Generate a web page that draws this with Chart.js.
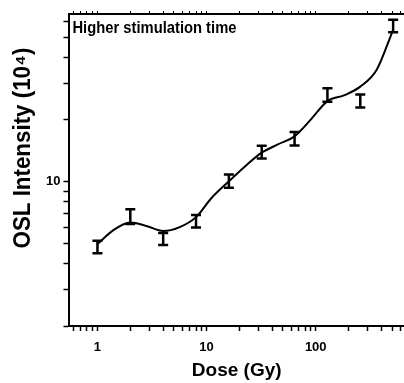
<!DOCTYPE html>
<html>
<head>
<meta charset="utf-8">
<script src="https://cdn.jsdelivr.net/npm/chart.js@4.4.1/dist/chart.umd.min.js"></script>
<style>
  html, body { margin: 0; padding: 0; background: #fff; }
</style>
</head>
<body>
<canvas id="chart" width="404" height="383"></canvas>
<script>
'use strict';

// measured points: dose (Gy) vs OSL intensity (10^4), with error
var doses = [1, 2, 4, 8, 16, 32, 64, 128, 256, 512];
var intensity = [4.84, 6.8, 5.29, 6.46, 10.1, 13.95, 16.2, 26.4, 24.7, 57.0];
var intensityErr = [0.34, 0.55, 0.35, 0.45, 0.75, 1.0, 1.2, 2.0, 1.8, 4.0];

// smooth curve
var curveDose = [1, 1.4, 2, 2.8, 4, 5.6, 8, 11, 16, 22.6, 32, 45, 64, 90, 128, 181, 256, 362, 512];
var curveIntensity = [4.99, 5.83, 6.35, 6.11, 5.77, 6.01, 6.74, 8.3, 10.05, 11.9, 13.84, 15.17, 16.6, 20.0, 24.6, 26.2, 28.9, 34.9, 54.5];

var xTicks = [0.6, 0.7, 0.8, 0.9, 1, 2, 3, 4, 5, 6, 7, 8, 9, 10, 20, 30, 40, 50, 60, 70, 80, 90, 100, 200, 300, 400, 500, 600];
var xLabels = [1, 10, 100];
var yTicks = [2, 3, 4, 5, 6, 7, 8, 9, 10, 20, 30, 40, 50, 60];
var yLabels = [10];

var FONT = '"Liberation Sans", Arial, sans-serif';

function setTicks(list) {
  return function (scale) {
    scale.ticks = list.map((v) => ({ value: v }));
  };
}

var errorBars = {
  id: 'errorBars',
  afterDatasetsDraw(chart) {
    var ctx = chart.ctx, xs = chart.scales.x, ys = chart.scales.y;
    ctx.save();
    ctx.strokeStyle = '#000';
    ctx.lineWidth = 2.5;
    doses.forEach((d, i) => {
      var px = xs.getPixelForValue(d);
      var top = ys.getPixelForValue(intensity[i] + intensityErr[i]);
      var bot = ys.getPixelForValue(intensity[i] - intensityErr[i]);
      ctx.beginPath();
      ctx.moveTo(px, top); ctx.lineTo(px, bot);
      ctx.moveTo(px - 5, top); ctx.lineTo(px + 5, top);
      ctx.moveTo(px - 5, bot); ctx.lineTo(px + 5, bot);
      ctx.stroke();
    });
    ctx.restore();
  }
};

var texts = {
  id: 'texts',
  afterDraw(chart) {
    var ctx = chart.ctx, a = chart.chartArea;
    ctx.save();
    ctx.fillStyle = '#000';
    ctx.textAlign = 'left';
    ctx.textBaseline = 'alphabetic';
    ctx.font = 'bold 17px ' + FONT;
    ctx.fillText('Higher stimulation time', a.left + 3, a.top + 19, 164);
    ctx.translate(24, 148);
    ctx.rotate(-Math.PI / 2);
    ctx.textAlign = 'center';
    ctx.textBaseline = 'middle';
    ctx.font = 'bold 23px ' + FONT;
    ctx.fillText('OSL Intensity (10\u2074)', 0, 0, 201);
    ctx.restore();
  }
};

var axisBorder = { display: true, color: '#000', width: 2 };

new Chart(document.getElementById('chart'), {
  type: 'scatter',
  data: {
    datasets: [{
      label: 'fit',
      data: curveDose.map((d, i) => ({ x: d, y: curveIntensity[i] })),
      showLine: true,
      borderColor: '#000',
      borderWidth: 2,
      pointRadius: 0,
      cubicInterpolationMode: 'monotone',
      fill: false
    }, {
      label: 'measured',
      data: doses.map((d, i) => ({ x: d, y: intensity[i] })),
      pointRadius: 0,
      borderColor: '#000'
    }]
  },
  options: {
    responsive: false,
    animation: false,
    devicePixelRatio: 1,
    layout: { padding: { left: 43, top: 11, right: 0, bottom: 1.1 } },
    plugins: { legend: { display: false }, tooltip: { enabled: false } },
    scales: {
      x: {
        type: 'logarithmic', position: 'bottom', min: 0.554, max: 644,
        afterBuildTicks: setTicks(xTicks),
        ticks: {
          autoSkip: false, maxRotation: 0, padding: 0, color: '#000',
          font: { family: FONT, size: 13, weight: 'bold', lineHeight: 2.46 },
          callback: (v) => (xLabels.indexOf(v) >= 0 ? String(v) : '')
        },
        grid: { drawOnChartArea: false, tickLength: 5, tickColor: '#000', tickWidth: 1.5 },
        border: axisBorder,
        title: {
          display: true, text: 'Dose (Gy)', color: '#000',
          font: { family: FONT, size: 19, weight: 'bold' },
          padding: { top: -3.9, bottom: 0 }
        }
      },
      x2: {
        type: 'logarithmic', position: 'top', min: 0.554, max: 644,
        afterBuildTicks: setTicks(xTicks),
        ticks: { display: false },
        grid: { drawOnChartArea: false, tickLength: 3, tickColor: '#000', tickWidth: 1 },
        border: axisBorder
      },
      y: {
        type: 'logarithmic', position: 'left', min: 2, max: 65,
        afterBuildTicks: setTicks(yTicks),
        ticks: {
          autoSkip: false, padding: 3, color: '#000',
          font: { family: FONT, size: 13, weight: 'bold' },
          callback: (v) => (yLabels.indexOf(v) >= 0 ? String(v) : '')
        },
        grid: { drawOnChartArea: false, tickLength: 6, tickColor: '#000', tickWidth: 1.5 },
        border: axisBorder
      }
    }
  },
  plugins: [errorBars, texts]
});
</script>
</body>
</html>
